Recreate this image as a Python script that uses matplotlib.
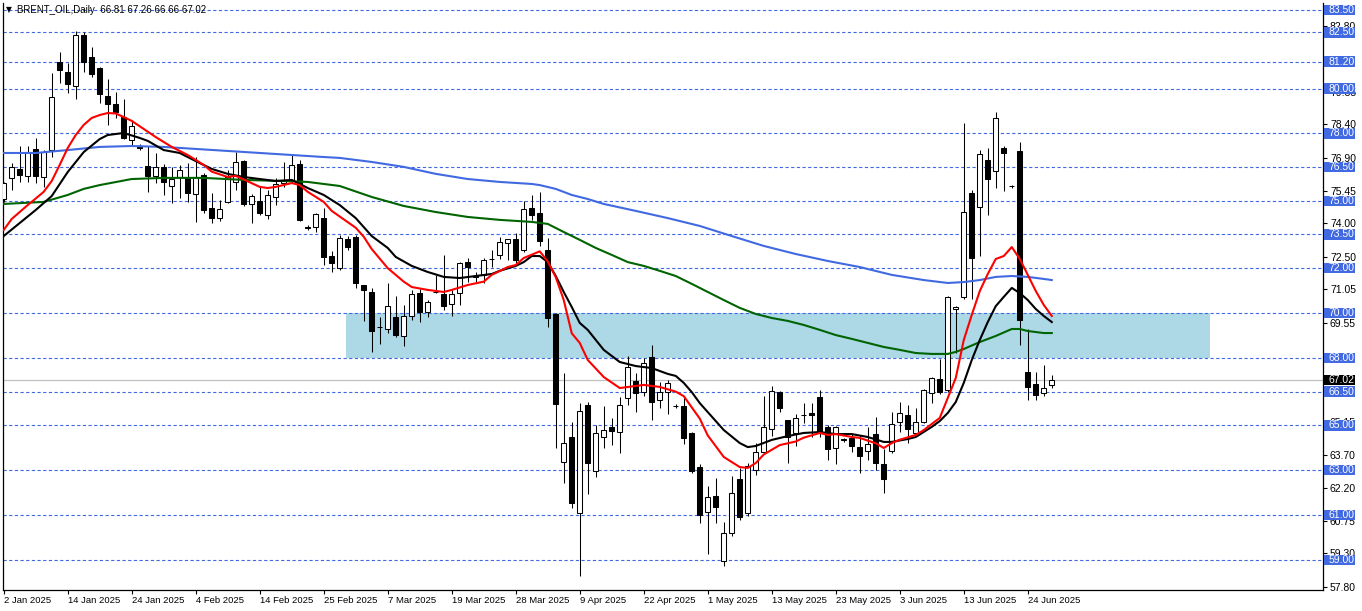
import matplotlib.pyplot as plt
from matplotlib.patches import Rectangle

# daily bars, left to right (bar index = position on the chart)
opens = [75.08, 76.02, 76.42, 76.11, 77.31, 76.06, 77.26, 81.18, 80.74, 80.11,
         82.39, 81.41, 80.92, 79.67, 79.31, 78.73, 77.71, 77.45, 76.55, 76.11,
         76.51, 75.66, 76.06, 76.02, 75.30, 76.15, 74.68, 74.23, 74.95, 75.84,
         76.77, 74.86, 74.99, 74.37, 75.17, 75.80, 75.93, 76.64, 73.82, 73.83,
         74.23, 72.54, 72.01, 73.30, 73.39, 71.25, 70.94, 69.40, 69.29, 69.83,
         68.98, 69.87, 70.89, 70.05, 70.93, 70.85, 70.40, 70.89, 72.27, 71.62,
         71.70, 72.40, 72.59, 73.12, 73.30, 72.81, 74.68, 74.46, 72.81, 69.96,
         63.37, 64.48, 61.10, 65.91, 62.97, 64.48, 64.93, 64.70, 66.22, 66.97,
         66.48, 68.04, 66.13, 66.48, 65.88, 65.86, 64.66, 63.14, 61.14, 61.85,
         58.96, 60.20, 62.61, 61.10, 63.01, 63.81, 64.84, 66.48, 65.24, 64.66,
         65.44, 65.55, 66.26, 64.93, 63.99, 64.35, 64.44, 64.03, 63.86, 64.61,
         63.28, 63.86, 65.15, 65.46, 64.66, 65.15, 66.44, 67.06, 66.57, 70.18,
         70.72, 75.35, 74.72, 76.82, 76.33, 77.35, 75.66, 77.22, 67.38, 66.84,
         66.44, 66.81]
highs = [75.84, 76.68, 77.44, 77.44, 77.80, 77.26, 80.69, 81.63, 81.14, 82.56,
         82.52, 81.85, 80.96, 80.43, 79.85, 79.54, 78.60, 77.55, 77.44, 77.13,
         76.64, 76.51, 76.60, 76.68, 76.95, 76.24, 75.35, 75.04, 76.37, 77.17,
         76.82, 75.30, 75.62, 75.50, 76.02, 76.73, 77.04, 76.82, 73.90, 74.46,
         74.68, 72.76, 73.48, 73.45, 73.48, 71.25, 71.12, 69.83, 71.34, 70.76,
         70.36, 71.03, 71.07, 70.58, 71.70, 72.59, 71.03, 72.27, 72.45, 71.83,
         72.45, 72.81, 73.39, 73.32, 73.57, 74.99, 75.26, 75.39, 73.34, 70.00,
         67.33, 65.15, 65.99, 66.04, 65.01, 65.86, 65.33, 66.26, 68.09, 67.33,
         68.00, 68.58, 66.93, 67.02, 65.95, 66.26, 64.70, 63.28, 62.30, 62.65,
         60.69, 62.74, 63.10, 63.32, 64.21, 66.31, 66.75, 66.53, 65.24, 65.50,
         65.99, 65.99, 66.57, 65.01, 64.97, 64.44, 64.61, 64.57, 64.93, 65.37,
         63.95, 65.59, 66.04, 65.91, 65.77, 66.62, 67.15, 67.95, 70.76, 70.31,
         78.47, 75.48, 77.26, 77.35, 78.96, 77.44, 75.70, 77.62, 69.29, 67.38,
         67.69, 67.26]
lows = [74.95, 75.48, 75.84, 75.84, 75.79, 75.62, 76.95, 80.25, 79.80, 79.54,
        80.74, 80.52, 79.36, 78.38, 78.69, 77.75, 77.49, 77.25, 75.39, 75.79,
        75.26, 74.90, 75.13, 74.95, 74.06, 74.46, 74.01, 74.10, 74.90, 75.48,
        74.77, 74.01, 74.37, 74.20, 74.81, 75.60, 75.80, 74.10, 73.70, 73.61,
        72.14, 71.83, 71.92, 72.80, 71.12, 69.65, 68.27, 68.62, 69.11, 68.93,
        68.53, 69.69, 69.60, 69.83, 70.90, 70.14, 69.87, 70.36, 71.38, 71.38,
        71.34, 72.05, 72.41, 72.36, 72.23, 72.70, 74.15, 73.00, 69.38, 63.99,
        62.43, 61.32, 58.29, 61.94, 62.70, 63.99, 64.12, 63.77, 65.91, 65.59,
        66.30, 65.24, 65.77, 65.50, 65.77, 64.17, 62.88, 60.65, 59.27, 60.65,
        58.73, 60.07, 60.78, 60.96, 62.79, 63.72, 64.52, 65.59, 63.32, 64.08,
        65.10, 64.48, 64.48, 63.46, 63.28, 64.26, 63.81, 62.88, 63.46, 63.01,
        61.99, 63.77, 64.70, 64.21, 64.57, 65.10, 65.99, 66.40, 66.50, 68.22,
        70.63, 70.63, 72.54, 74.37, 75.57, 75.44, 75.57, 68.58, 66.13, 66.13,
        66.31, 66.66]
closes = [75.79, 76.51, 76.15, 77.17, 76.11, 77.17, 79.62, 80.83, 80.20, 82.39,
          81.18, 80.65, 79.76, 79.31, 78.96, 77.80, 78.33, 77.35, 76.11, 76.51,
          75.84, 75.97, 76.37, 75.35, 76.06, 74.59, 74.23, 74.64, 76.06, 76.73,
          74.86, 75.21, 74.46, 75.26, 75.75, 75.88, 76.60, 74.15, 73.79, 74.41,
          72.50, 72.23, 73.34, 72.94, 71.34, 71.03, 69.20, 69.36, 70.31, 69.02,
          69.87, 70.85, 70.05, 70.49, 70.96, 70.31, 70.85, 72.23, 72.05, 71.65,
          72.36, 72.43, 73.17, 73.30, 72.36, 74.64, 74.37, 73.21, 69.78, 65.95,
          64.21, 61.54, 65.64, 63.32, 64.66, 64.79, 64.75, 65.91, 67.60, 66.44,
          67.78, 66.04, 66.48, 66.89, 65.86, 64.44, 62.97, 61.01, 61.81, 61.36,
          60.20, 61.99, 60.92, 63.19, 63.81, 64.93, 66.53, 65.77, 64.48, 65.33,
          65.46, 65.46, 64.70, 63.95, 64.93, 64.37, 64.08, 63.63, 64.17, 63.32,
          62.61, 65.06, 65.55, 64.84, 65.15, 66.57, 67.11, 66.48, 70.72, 70.27,
          74.50, 72.45, 77.09, 75.97, 78.69, 77.13, 75.64, 69.69, 66.71, 66.35,
          66.66, 67.02]

# moving averages: bar index -> value
red_bar = [0, 1, 3, 4, 5, 6, 7, 8, 9, 10, 11, 12, 13, 14, 15, 16, 17, 19, 21, 23,
           25, 26, 28, 29, 30, 32, 33, 34, 36, 37, 38, 40, 41, 42, 44, 45, 46, 48, 50, 51,
           53, 55, 56, 58, 60, 61, 63, 64, 65, 67, 68, 69, 70, 71, 72, 73, 75, 77, 80, 82,
           84, 85, 87, 88, 90, 92, 93, 94, 95, 97, 99, 100, 102, 103, 104, 106, 107, 109, 110, 111,
           112, 114, 115, 117, 118, 119, 120, 121, 122, 123, 124, 125, 126, 127, 128, 129, 130, 131]
red_ma = [73.70, 74.19, 74.81, 75.10, 75.40, 75.88, 76.60, 77.35, 77.93, 78.38,
          78.69, 78.82, 78.91, 78.89, 78.73, 78.56, 78.32, 77.84, 77.40, 77.04,
          76.60, 76.30, 76.06, 76.11, 75.95, 75.62, 75.57, 75.62, 75.79, 75.70,
          75.40, 74.95, 74.55, 74.30, 73.80, 73.40, 72.85, 72.00, 71.40, 71.16,
          71.03, 70.94, 71.03, 71.25, 71.40, 71.70, 72.05, 72.14, 72.45, 72.75,
          72.30, 71.60, 70.58, 69.10, 68.67, 67.91, 67.15, 66.66, 66.80, 66.71,
          66.50, 66.30, 65.30, 64.55, 63.59, 63.14, 63.10, 63.32, 63.70, 64.12,
          64.28, 64.45, 64.66, 64.57, 64.61, 64.48, 64.44, 64.20, 63.99, 64.21,
          64.36, 64.57, 64.79, 65.33, 66.22, 67.11, 68.80, 69.92, 70.98, 71.74,
          72.41, 72.54, 72.94, 72.41, 71.70, 70.98, 70.36, 69.87]

black_bar = [0, 2, 4, 6, 8, 10, 12, 13, 15, 17, 18, 20, 22, 24, 26, 28, 30, 32, 34, 36,
             37, 38, 40, 42, 44, 46, 48, 49, 51, 53, 55, 57, 59, 61, 62, 64, 65, 66, 67, 68,
             69, 70, 71, 72, 73, 75, 77, 79, 81, 83, 84, 85, 86, 87, 88, 90, 92, 93, 94, 96,
             98, 100, 102, 104, 106, 108, 110, 111, 113, 114, 116, 117, 118, 119, 120, 121, 122, 123, 124, 125,
             126, 127, 128, 129, 130, 131]
black_ma = [73.43, 74.01, 74.59, 75.21, 76.28, 77.17, 77.75, 77.93, 78.02, 77.80,
            77.67, 77.26, 77.13, 76.77, 76.42, 76.20, 76.06, 75.97, 75.88, 75.93,
            75.75, 75.57, 75.26, 74.81, 74.23, 73.43, 72.90, 72.50, 72.10, 71.83,
            71.61, 71.56, 71.65, 71.74, 71.88, 72.10, 72.27, 72.54, 72.54, 72.27,
            71.65, 70.94, 70.27, 69.56, 69.25, 68.36, 67.82, 67.64, 67.55, 67.29,
            67.20, 66.89, 66.48, 65.99, 65.59, 64.79, 64.21, 64.03, 64.08, 64.35,
            64.52, 64.66, 64.70, 64.61, 64.61, 64.48, 64.26, 64.26, 64.39, 64.48,
            64.93, 65.19, 65.55, 66.04, 66.89, 67.91, 68.80, 69.60, 70.31, 70.72,
            71.12, 70.89, 70.58, 70.18, 69.87, 69.60]

green_bar = [0, 5, 8, 10, 12, 16, 20, 25, 30, 35, 38, 42, 46, 50, 54, 58, 62, 66, 68, 70,
             72, 74, 76, 78, 80, 82, 84, 86, 88, 90, 92, 94, 96, 98, 100, 102, 104, 106, 108, 110,
             112, 114, 116, 118, 119, 120, 122, 124, 126, 127, 128, 130, 131]
green_ma = [74.86, 74.95, 75.26, 75.53, 75.70, 75.97, 76.02, 76.02, 75.93, 75.88,
            75.84, 75.66, 75.17, 74.77, 74.50, 74.28, 74.15, 74.06, 73.97, 73.61,
            73.26, 72.90, 72.59, 72.27, 72.10, 71.88, 71.65, 71.30, 70.94, 70.58,
            70.23, 69.96, 69.78, 69.65, 69.47, 69.25, 69.02, 68.85, 68.67, 68.49,
            68.36, 68.22, 68.18, 68.18, 68.27, 68.40, 68.71, 68.98, 69.29, 69.29,
            69.20, 69.11, 69.11]

blue_bar = [0, 4, 8, 12, 16, 20, 24, 28, 32, 36, 40, 42, 46, 50, 54, 58, 62, 66, 67, 69,
            71, 73, 75, 79, 83, 87, 91, 95, 99, 103, 107, 111, 115, 118, 120, 122, 124, 126, 128, 130,
            131]
blue_ma = [77.13, 77.13, 77.26, 77.40, 77.44, 77.40, 77.31, 77.22, 77.13, 77.04,
           76.95, 76.91, 76.73, 76.51, 76.20, 75.97, 75.84, 75.75, 75.70, 75.53,
           75.26, 75.08, 74.86, 74.55, 74.23, 73.88, 73.43, 72.99, 72.63, 72.32,
           72.05, 71.70, 71.47, 71.34, 71.38, 71.47, 71.61, 71.65, 71.61, 71.52,
           71.47]

# horizontal levels with price tags, and the visible part of the price scale
levels = [83.50, 82.50, 81.20, 80.00, 78.00, 76.50, 75.00, 73.50, 72.00,
          70.00, 68.00, 66.50, 65.00, 63.00, 61.00, 59.00]
scale_ticks = [57.80, 59.30, 60.75, 62.20, 63.70, 65.15, 69.55,
               71.05, 72.50, 74.00, 75.45, 76.90, 78.40, 79.85, 82.80]
last_price = 67.02
zone_low, zone_high = 68.00, 70.00
zone_from, zone_to = 42.8, 150.8

date_bars = [0, 8, 16, 24, 32, 40, 48, 56, 64, 72, 80, 88, 96, 104, 112, 120, 128]
date_labels = ['2 Jan 2025', '14 Jan 2025', '24 Jan 2025', '4 Feb 2025', '14 Feb 2025',
               '25 Feb 2025', '7 Mar 2025', '19 Mar 2025', '28 Mar 2025', '9 Apr 2025',
               '22 Apr 2025', '1 May 2025', '13 May 2025', '23 May 2025', '3 Jun 2025',
               '13 Jun 2025', '24 Jun 2025']

title = 'BRENT_OIL,Daily  66.81 67.26 66.66 67.02'

plt.rcParams['font.family'] = ['Liberation Sans', 'DejaVu Sans']
tag_blue = '#4169E1'

fig = plt.figure(figsize=(13.62, 6.11), dpi=100)
ax = fig.add_axes([2.5 / 1362, 21 / 611, 1320.5 / 1362, 587 / 611])
ax.set_xlim(-0.15, 164.9)
ax.set_ylim(57.665, 83.81)

# zone + levels
ax.axhspan(zone_low, zone_high, xmin=(zone_from + 0.15) / 165.05, xmax=(zone_to + 0.15) / 165.05,
           color='#ADD8E6', lw=0, zorder=1)
for lv in levels:
    ax.axhline(lv, color=tag_blue, lw=0.8, dashes=(2.9, 2.2), zorder=2)
ax.axhline(last_price, color='#C0C0C0', lw=0.9, zorder=2)

# candles
n = len(closes)
bars = list(range(n))
ax.vlines(bars, lows, highs, color='black', lw=0.75, zorder=3)
for i in bars:
    o, c = opens[i], closes[i]
    fc = 'white' if c >= o else 'black'
    ax.bar(i, c - o, bottom=o, width=0.62, color=fc, edgecolor='black',
           linewidth=0.75, zorder=4)

# moving averages
ax.plot(blue_bar, blue_ma, color='#4169E1', lw=1.5, zorder=5)
ax.plot(green_bar, green_ma, color='#006400', lw=1.5, zorder=5)
ax.plot(black_bar, black_ma, color='black', lw=1.5, zorder=5)
ax.plot(red_bar, red_ma, color='#FF0000', lw=1.5, zorder=5)

# axes look
ax.spines['top'].set_visible(False)
for s in ('left', 'bottom', 'right'):
    ax.spines[s].set_linewidth(0.9)
ax.yaxis.tick_right()
ax.set_yticks(scale_ticks)
ax.set_yticklabels(['%.2f' % v for v in scale_ticks])
ax.tick_params(axis='y', length=3, width=0.8, pad=2, labelsize=7.5)
ax.set_xticks(date_bars)
ax.set_xticklabels(date_labels, ha='left')
ax.tick_params(axis='x', length=3, width=0.8, pad=1.5, labelsize=6.8)

# price tags on the right (fixed-size boxes like the terminal draws them)
tr = ax.get_yaxis_transform()
tag_w = 31 / 1320.5
tag_h = 10.5 / 22.45
for lv, col in [(v, tag_blue) for v in levels] + [(last_price, 'black')]:
    ax.add_patch(Rectangle((1.0011, lv - tag_h / 2), tag_w, tag_h, transform=tr,
                           fc=col, ec='none', clip_on=False, zorder=10))
    ax.text(1.0042, lv, '%.2f' % lv, transform=tr, ha='left', va='center',
            fontsize=7.5, color='white', clip_on=False, zorder=11)

# header
fig.text(6 / 1362, 1 - 10 / 611, '\u25bc', fontsize=5.5, family='DejaVu Sans',
         va='center', ha='left')
fig.text(17 / 1362, 1 - 10 / 611, title, fontsize=7, va='center', ha='left')

fig.savefig('out.png', dpi=100, facecolor='white')
